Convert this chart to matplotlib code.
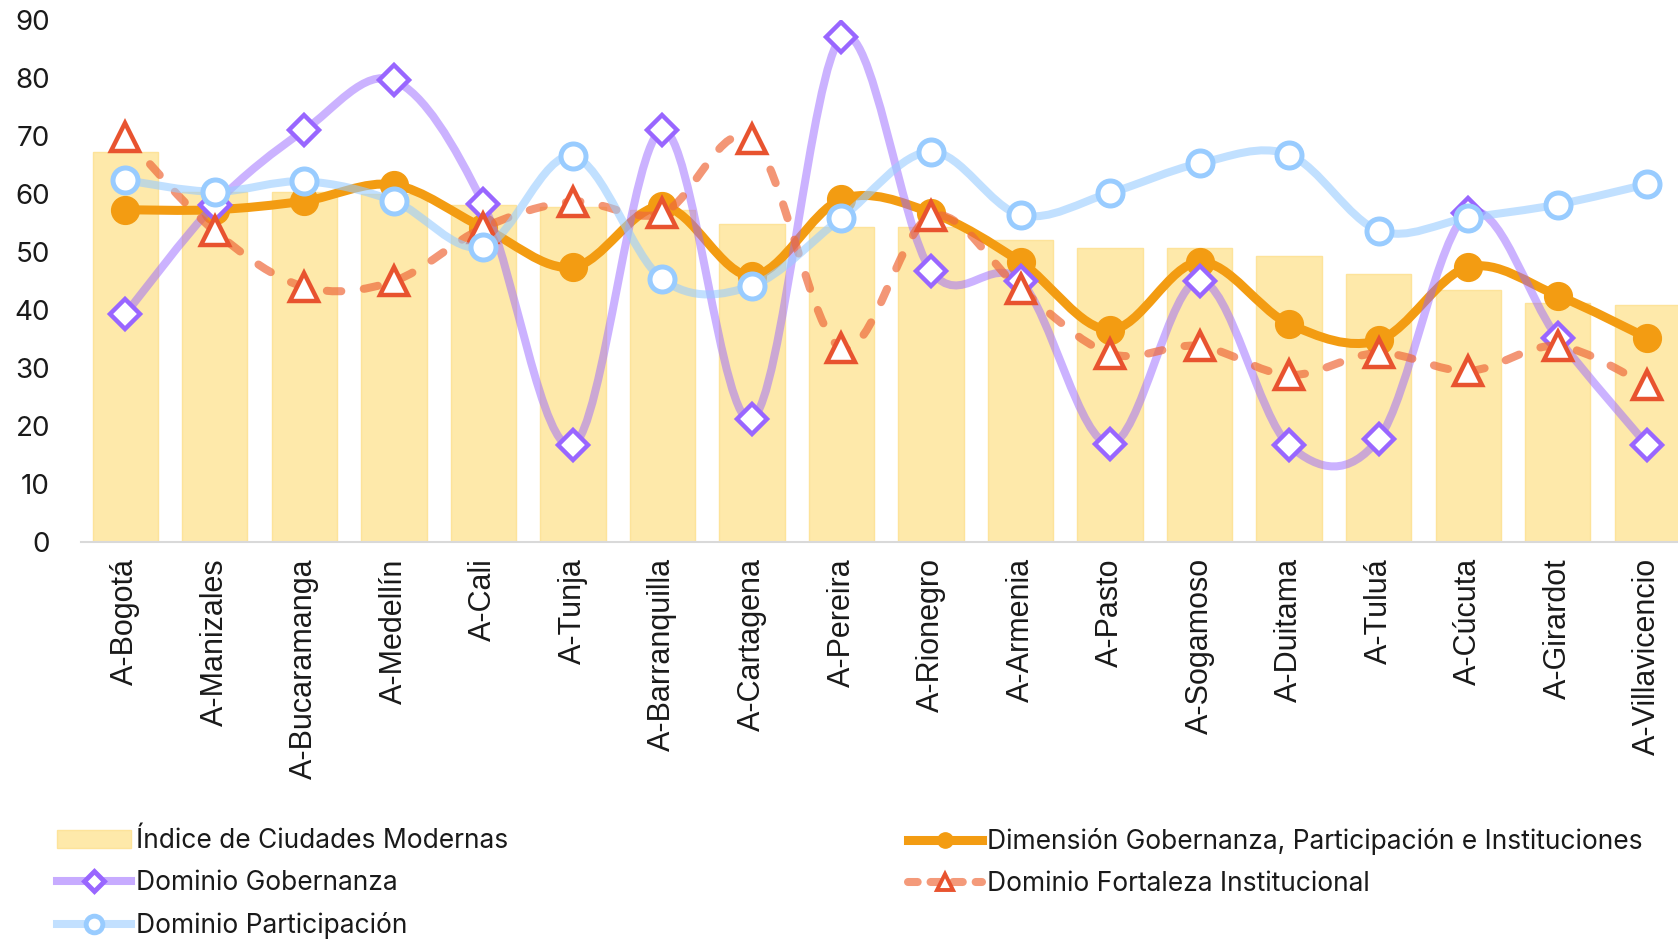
import matplotlib.pyplot as plt
from matplotlib.path import Path
from matplotlib.patches import PathPatch, Patch
from matplotlib.lines import Line2D

ciudades = ['A-Bogotá', 'A-Manizales', 'A-Bucaramanga', 'A-Medellín', 'A-Cali', 'A-Tunja',
            'A-Barranquilla', 'A-Cartagena', 'A-Pereira', 'A-Rionegro', 'A-Armenia', 'A-Pasto',
            'A-Sogamoso', 'A-Duitama', 'A-Tuluá', 'A-Cúcuta', 'A-Girardot', 'A-Villavicencio']

indice = [67.2, 60.3, 60.3, 60.0, 58.1, 57.6, 57.1, 54.8, 54.3, 54.2, 51.9, 50.6,
          50.6, 49.2, 46.1, 43.3, 41.2, 40.8]
dimension = [57.2, 57.2, 58.7, 61.5, 54.1, 47.3, 57.8, 45.8, 59.0, 56.7, 48.2, 36.5,
             48.2, 37.5, 34.7, 47.3, 42.4, 35.1]
gobernanza = [39.2, 58.1, 70.9, 79.5, 58.2, 16.6, 70.9, 21.1, 86.9, 46.7, 44.9, 16.8,
              45.0, 16.6, 17.7, 56.6, 35.1, 16.6]
fortaleza = [69.8, 53.5, 43.9, 44.9, 54.1, 58.6, 56.6, 69.4, 33.3, 56.1, 43.5, 32.4,
             33.7, 28.7, 32.5, 29.4, 33.7, 26.9]
participacion = [62.3, 60.3, 62.1, 58.7, 50.8, 66.4, 45.2, 44.1, 55.8, 67.2, 56.3, 60.1,
                 65.2, 66.7, 53.6, 55.8, 58.1, 61.6]

x = list(range(len(ciudades)))


def smooth_path(xs, ys):
    # curva suavizada tipo Excel (Bezier cubica, tangentes Catmull-Rom)
    n = len(xs)
    verts = [(xs[0], ys[0])]
    codes = [Path.MOVETO]
    for i in range(n - 1):
        a = i - 1 if i > 0 else i
        b = i + 2 if i + 2 < n else i + 1
        c1 = (xs[i] + (xs[i + 1] - xs[a]) / 6, ys[i] + (ys[i + 1] - ys[a]) / 6)
        c2 = (xs[i + 1] - (xs[b] - xs[i]) / 6, ys[i + 1] - (ys[b] - ys[i]) / 6)
        verts += [c1, c2, (xs[i + 1], ys[i + 1])]
        codes += [Path.CURVE4] * 3
    return Path(verts, codes)


plt.rcParams['font.family'] = ['Inter', 'DejaVu Sans']

fig = plt.figure(figsize=(16.78, 9.39), dpi=100)
ax = fig.add_axes([80.5 / 1678, 397.5 / 939, (1692 - 80.5) / 1678, 522 / 939])

ax.bar(x, indice, width=0.73, color='#FEE9AA', edgecolor='#FDE39A', linewidth=1, zorder=1)

# Dimension
ax.add_patch(PathPatch(smooth_path(x, dimension), fill=False, edgecolor='#F39C12',
                       linewidth=6.5, capstyle='round', joinstyle='round', zorder=2))
ax.plot(x, dimension, linestyle='none', marker='o', markersize=20, color='#F39C12', zorder=3)

# Gobernanza
ax.add_patch(PathPatch(smooth_path(x, gobernanza), fill=False, edgecolor='#9966FF', alpha=0.5,
                       linewidth=5.8, capstyle='round', zorder=4))
ax.plot(x, gobernanza, linestyle='none', marker='D', markersize=15, markerfacecolor='white',
        markeredgecolor='#9966FF', markeredgewidth=3.2, zorder=5)

# Fortaleza
ax.add_patch(PathPatch(smooth_path(x, fortaleza), fill=False, edgecolor='#EE6A3C', alpha=0.7,
                       linewidth=5.8, linestyle=(0, (1.8, 2.8)), capstyle='round', zorder=6))
ax.plot(x, fortaleza, linestyle='none', marker='^', markersize=20, markerfacecolor='white',
        markeredgecolor='#E8532F', markeredgewidth=3.2, zorder=7)

# Participacion
ax.add_patch(PathPatch(smooth_path(x, participacion), fill=False, edgecolor='#99CCFF', alpha=0.6,
                       linewidth=5.8, capstyle='round', zorder=8))
ax.plot(x, participacion, linestyle='none', marker='o', markersize=18, markerfacecolor='white',
        markeredgecolor='#99CCFF', markeredgewidth=3.6, zorder=9)

ax.set_xlim(-0.5, len(ciudades) - 0.5)
ax.set_ylim(0, 90)
ax.set_yticks(range(0, 91, 10))
ax.set_xticks(x)
ax.set_xticklabels(ciudades, rotation=90, fontsize=22,
                   family=['Liberation Sans', 'DejaVu Sans'])
ax.tick_params(axis='both', length=0, colors='#1a1a1a')
ax.tick_params(axis='y', pad=22, labelsize=20)
ax.tick_params(axis='x', pad=12)
for s in ['top', 'right', 'left']:
    ax.spines[s].set_visible(False)
ax.spines['bottom'].set_color('#d9d9d9')
ax.spines['bottom'].set_linewidth(1.5)

h_ind = Patch(facecolor='#FEE9AA', edgecolor='#FDE39A')
h_dim = Line2D([], [], color='#F39C12', linewidth=6.5, marker='o', markersize=11)
h_gob = Line2D([], [], color='#C7ABFF', linewidth=5.8, marker='D', markersize=10,
               markerfacecolor='white', markeredgecolor='#9966FF', markeredgewidth=3.5)
h_for = Line2D([], [], color='#F49A7A', linewidth=5.8, linestyle=(0, (1.2, 1.6)),
               dash_capstyle='round', marker='^', markersize=12, markerfacecolor='white',
               markeredgecolor='#E8532F', markeredgewidth=2.8)
h_par = Line2D([], [], color='#C2E0FF', linewidth=5.8, marker='o', markersize=12,
               markerfacecolor='white', markeredgecolor='#99CCFF', markeredgewidth=3.5)

leg_kw = dict(frameon=False, fontsize=19, handlelength=2.8, handleheight=0.65, handletextpad=0.2,
              labelspacing=0.6, borderaxespad=0, borderpad=0, labelcolor='#1a1a1a')
fig.legend([h_ind, h_gob, h_par],
           ['Índice de Ciudades Modernas', 'Dominio Gobernanza', 'Dominio Participación'],
           loc='upper left', bbox_to_anchor=(57 / 1678, 1 - 828 / 939), **leg_kw)
fig.legend([h_dim, h_for],
           ['Dimensión Gobernanza, Participación e Instituciones', 'Dominio Fortaleza Institucional'],
           loc='upper left', bbox_to_anchor=(908 / 1678, 1 - 828 / 939), **leg_kw)

fig.savefig('out.png', dpi=100)
